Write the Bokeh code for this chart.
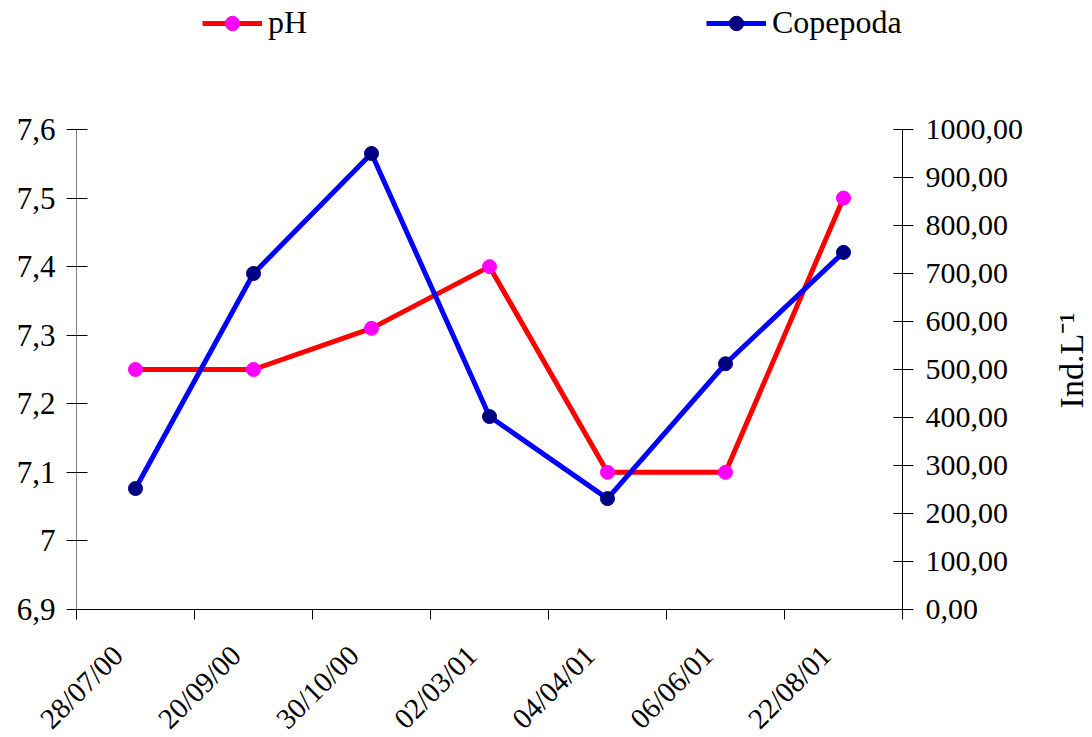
import math
from bokeh.plotting import figure
from bokeh.layouts import row, column
from bokeh.models import Range1d, LinearAxis, FixedTicker, Legend, LegendItem, ColumnDataSource
from bokeh.core.properties import value
from bokeh.embed import file_html
from bokeh.resources import INLINE

# ---- data ----
dates = ["28/07/00", "20/09/00", "30/10/00", "02/03/01", "04/04/01", "06/06/01", "22/08/01"]
ph = [7.25, 7.25, 7.31, 7.40, 7.10, 7.10, 7.50]
copepoda = [252, 700, 950, 402, 231, 512, 744]
ph_ticks = [6.9, 7.0, 7.1, 7.2, 7.3, 7.4, 7.5, 7.6]
ph_tick_labels = ["6,9", "7", "7,1", "7,2", "7,3", "7,4", "7,5", "7,6"]
cop_ticks = [0, 100, 200, 300, 400, 500, 600, 700, 800, 900, 1000]
cop_tick_labels = ["0,00", "100,00", "200,00", "300,00", "400,00", "500,00",
                   "600,00", "700,00", "800,00", "900,00", "1000,00"]
right_axis_title = "Ind.L⁻¹"

# ---- layout constants (pixels) ----
FONT = "Liberation Serif"
FRAME_L, FRAME_W, FRAME_H = 76, 826, 480
LEG_H = 60            # legend strip above the plot
MAIN_TOP = 69         # so the frame top sits at LEG_H + MAIN_TOP = 129
MAIN_BOTTOM = 146
MAIN_W = 1050
TITLE_W = 42

n = len(dates)
xs = [i + 0.5 for i in range(n)]
label_pos = [i + 0.35 for i in range(n)]   # rotated labels end slightly left of centre
src = ColumnDataSource(dict(x=xs, ph=ph, cop=copepoda))

main_h = MAIN_TOP + FRAME_H + MAIN_BOTTOM
p = figure(width=MAIN_W, height=main_h, output_backend="svg", toolbar_location=None,
           x_range=Range1d(0, n), y_range=Range1d(6.9, 7.6),
           min_border_left=FRAME_L, min_border_right=MAIN_W - FRAME_L - FRAME_W,
           min_border_top=MAIN_TOP, min_border_bottom=MAIN_BOTTOM)
p.extra_y_ranges = {"cop": Range1d(0, 1000)}
p.outline_line_color = None
p.xgrid.visible = False
p.ygrid.visible = False

# x axis: labels under each date, ticks at the category boundaries (minor ticks)
xa = p.xaxis[0]
xa.ticker = FixedTicker(ticks=label_pos, minor_ticks=list(range(n + 1)))
xa.major_label_overrides = {x: d for x, d in zip(label_pos, dates)}
xa.major_tick_in = 0
xa.major_tick_out = 0
xa.minor_tick_in = 0
xa.minor_tick_out = 10
xa.minor_tick_line_color = "black"
xa.axis_line_color = "black"
xa.major_label_orientation = math.pi / 4
xa.major_label_text_font = FONT
xa.major_label_text_font_size = "29px"
xa.major_label_text_color = "black"
xa.major_label_standoff = 31

# left axis
ya = p.yaxis[0]
ya.ticker = FixedTicker(ticks=ph_ticks, minor_ticks=[])
ya.major_label_overrides = {t: l for t, l in zip(ph_ticks, ph_tick_labels)}
ya.axis_line_color = "#808080"
ya.major_tick_line_color = "black"
ya.major_tick_in = 11
ya.major_tick_out = 10
ya.major_label_text_font = FONT
ya.major_label_text_font_size = "31px"
ya.major_label_text_color = "black"
ya.major_label_standoff = 11

# right axis
ra = LinearAxis(y_range_name="cop", ticker=FixedTicker(ticks=cop_ticks, minor_ticks=[]))
ra.major_label_overrides = {t: l for t, l in zip(cop_ticks, cop_tick_labels)}
ra.axis_line_color = "black"
ra.major_tick_in = 9
ra.major_tick_out = 11
ra.major_label_text_font = FONT
ra.major_label_text_font_size = "30px"
ra.major_label_text_color = "black"
ra.major_label_standoff = 12
p.add_layout(ra, "right")

# series
p.line("x", "ph", source=src, line_color="#FF0000", line_width=5)
p.scatter("x", "ph", source=src, size=14, fill_color="#FF00FF", line_color="#FF00FF")
p.line("x", "cop", source=src, line_color="#0000FF", line_width=5, y_range_name="cop")
p.scatter("x", "cop", source=src, size=14, fill_color="#000080", line_color="#000080",
          y_range_name="cop")

# ---- legend strip above the plot (same styles as the series) ----
leg = figure(width=MAIN_W, height=LEG_H, output_backend="svg", toolbar_location=None,
             x_range=Range1d(0, 1), y_range=Range1d(0, 1), min_border=0,
             x_axis_location=None, y_axis_location=None)
leg.outline_line_color = None
leg.xgrid.visible = False
leg.ygrid.visible = False
# proxy renderers for the legend keys, placed outside the strip's visible range
el = ColumnDataSource(dict(x=[5, 6], y=[5, 6]))
r1 = leg.line("x", "y", source=el, line_color="#FF0000", line_width=5)
r2 = leg.scatter("x", "y", source=el, size=14, fill_color="#FF00FF", line_color="#FF00FF")
r3 = leg.line("x", "y", source=el, line_color="#0000FF", line_width=5)
r4 = leg.scatter("x", "y", source=el, size=14, fill_color="#000080", line_color="#000080")

def make_legend(label, rends, x_page):
    lg = Legend(items=[LegendItem(label=label, renderers=rends)],
                location=(x_page - FRAME_L, LEG_H - 23 - 18),
                orientation="horizontal", border_line_color=None, background_fill_alpha=0,
                padding=0, margin=0, glyph_width=60, glyph_height=36, label_height=36,
                label_standoff=6, label_text_font=FONT, label_text_font_size="32px",
                label_text_color="black")
    leg.add_layout(lg, "center")

make_legend("pH", [r1, r2], 202)
make_legend("Copepoda", [r3, r4], 706)

# ---- strip at right: y-axis title reading bottom-to-top ----
top_total = LEG_H + MAIN_TOP
tt = figure(width=TITLE_W, height=LEG_H + main_h, output_backend="svg", toolbar_location=None,
            x_range=Range1d(0, TITLE_W), y_range=Range1d(0, FRAME_H),
            min_border_left=0, min_border_right=0,
            min_border_top=top_total, min_border_bottom=MAIN_BOTTOM,
            x_axis_location=None, y_axis_location=None)
tt.outline_line_color = None
tt.xgrid.visible = False
tt.ygrid.visible = False
tt.text(x=[TITLE_W / 2], y=[top_total + FRAME_H - 360], text=[right_axis_title],
        angle=math.pi / 2, text_align="center", text_baseline="middle",
        text_font=value(FONT), text_font_size="34px", text_color="black")

layout = row(column(leg, p, spacing=0), tt, spacing=0)
open("out.html", "w").write(file_html(layout, INLINE))
